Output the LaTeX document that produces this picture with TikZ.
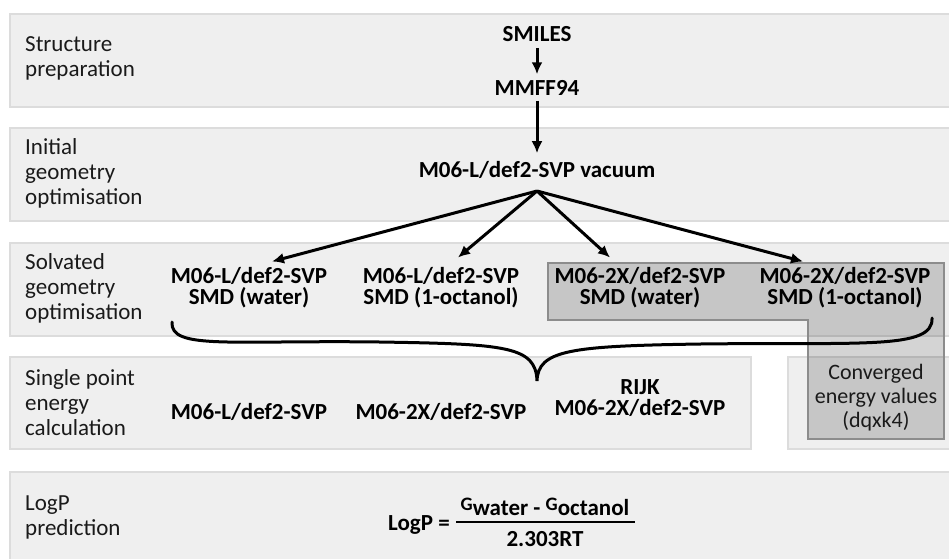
\documentclass[tikz,border=0pt]{standalone}
\usepackage{fontspec}
\setmainfont{Carlito}
\usetikzlibrary{arrows.meta,calc}
\definecolor{bandfill}{HTML}{EFEFEF}
\definecolor{bandline}{HTML}{DCDCDC}
\definecolor{ink}{HTML}{1A1A1A}
\definecolor{hiline}{HTML}{8C8C8C}
\begin{document}
\begin{tikzpicture}[x=1pt,y=-1pt,
  band/.style={fill=bandfill,draw=bandline,line width=1.8pt},
  stage/.style={anchor=west,align=left,inner sep=0pt,text=ink,
    font=\fontsize{23}{25}\selectfont},
  method/.style={align=center,inner sep=0pt,text=black,
    font=\fontsize{23}{21}\selectfont\bfseries},
  plain/.style={align=center,inner sep=0pt,text=ink,
    font=\fontsize{22}{24}\selectfont},
  formula/.style={inner sep=0pt,text=black,
    font=\fontsize{23}{23}\selectfont\bfseries},
  flow/.style={-{Latex[length=12pt,width=11pt]},line width=3pt},
  brace/.style={line width=3pt,line cap=round},
  highlight/.style={fill=black,fill opacity=0.17,draw=hiline,line width=1.6pt}
]
\useasboundingbox (0,0) rectangle (949,558);
\clip (0,0) rectangle (949,558);

% stage bands
\draw[band] (10,14) rectangle (962,107);
\draw[band] (10,128) rectangle (962,221);
\draw[band] (10,243) rectangle (962,336);
\draw[band] (10,357) rectangle (751,449);
\draw[band] (788,357) rectangle (962,449);
\draw[band] (10,472) rectangle (962,572);

% methods with converged energies
\draw[highlight] (548,263) -- (944,263) -- (944,439) -- (808,439)
  -- (808,320) -- (548,320) -- cycle;

% stage labels
\node[stage] (lab1) at (25,58) {Structure\\preparation};
\node[stage] (lab2) at (25,173) {Initial\\geometry\\optimisation};
\node[stage] (lab3) at (25,288) {Solvated\\geometry\\optimisation};
\node[stage] (lab4) at (25,403) {Single point\\energy\\calculation};
\node[stage] (lab5) at (25,517) {LogP\\prediction};

% structure preparation and initial optimisation
\node[method] (smiles) at (537,34) {SMILES};
\node[method] (mmff) at (537,88) {MMFF94};
\node[method] (vac) at (537,170) {M06-L/def2-SVP vacuum};
\coordinate (fork) at (537,191);

% solvated optimisations
\node[method] (s1) at (249,288) {M06-L/def2-SVP\\SMD (water)};
\node[method] (s2) at (441,288) {M06-L/def2-SVP\\SMD (1-octanol)};
\node[method] (s3) at (640,288) {M06-2X/def2-SVP\\SMD (water)};
\node[method] (s4) at (845,288) {M06-2X/def2-SVP\\SMD (1-octanol)};

% single point energies
\node[method] (p1) at (249,412) {M06-L/def2-SVP};
\node[method] (p2) at (441,412) {M06-2X/def2-SVP};
\node[method] (p3) at (640,398) {RIJK\\M06-2X/def2-SVP};
\node[plain] (conv) at (876,398) {Converged\\energy values\\(dqxk4)};

% connectors
\draw[flow] ($(smiles.south)+(0,6)$) -- ($(mmff.north)+(0,-6)$);
\draw[flow] ($(mmff.south)+(0,5)$) -- ($(vac.north)+(0,-8)$);
\draw[flow] (fork) -- ($(s1.north)+(23,-6)$);
\draw[flow] (fork) -- ($(s2.north)+(17,-10)$);
\draw[flow] (fork) -- ($(s3.north)+(-30,-10)$);
\draw[flow] (fork) -- ($(s4.north)+(-42,-6)$);

% brace gathering the solvated geometries
\coordinate (bl) at (172,322);
\coordinate (btip) at (537,381);
\coordinate (br) at (932,318);
\draw[brace] (bl) .. controls (170,350) and (230,340) .. (380,342)
  .. controls (505,344) and (536,346) .. (btip)
  .. controls (538,350) and (570,346) .. (700,344)
  .. controls (860,342) and (934,350) .. (br);

% logP prediction
\node[formula] (lhs) at (419,525) {LogP =};
\node[formula] (num) at (545,507)
  {{\fontsize{19}{19}\selectfont\raisebox{5pt}{G}}water - {\fontsize{19}{19}\selectfont\raisebox{5pt}{G}}octanol};
\node[formula] (den) at (545,539) {2.303RT};
\draw[line width=2.8pt] (456,522) -- (635,522);
\end{tikzpicture}
\end{document}
